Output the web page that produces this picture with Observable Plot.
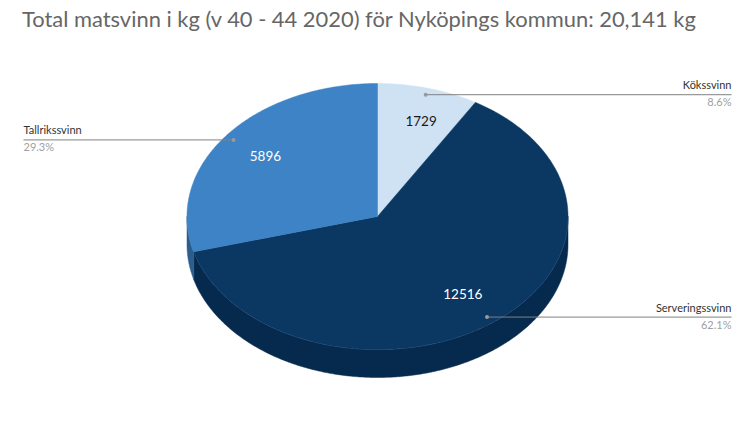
<!DOCTYPE html>
<html>
<head>
<meta charset="utf-8">
<script src="https://cdn.jsdelivr.net/npm/d3@7"></script>
<script src="https://cdn.jsdelivr.net/npm/@observablehq/plot@0.6"></script>
<style>
  html, body { margin: 0; padding: 0; background: #fff; }
  #title { font-family: Lato, "Open Sans", sans-serif; font-size: 21.9px; color: #666666; padding: 5px 0 0 22px; height: 40px; box-sizing: border-box; white-space: nowrap; }
</style>
</head>
<body>
<div id="title">Total matsvinn i kg (v 40 - 44 2020) för Nyköpings kommun: 20,141 kg</div>
<div id="chart"></div>
<script>
// ---- data ----
const categories = ["Kökssvinn", "Serveringssvinn", "Tallrikssvinn"];
const values = [1729, 12516, 5896];
const percentLabels = ["8.6%", "62.1%", "29.3%"];
const topColors = ["#cfe2f3", "#0b3763", "#3d83c5"];
const sideColors = ["#9fb5ca", "#062a4e", "#2b5d8d"];
const valueColors = ["#1a1a1a", "#ffffff", "#ffffff"];

// ---- layout ----
const W = 754, H = 424, titleH = 40;
const cx = 377, cy = 216, rx = 190.5, ry = 133, depth = 28;

const pie = d3.pie().sort(null).value(d => d)(values);

const px = (a, r = 1) => cx + rx * r * Math.sin(a);
const py = (a, r = 1) => cy - ry * r * Math.cos(a);

function arcPts(a0, a1, dy = 0) {
  const n = Math.max(2, Math.ceil((a1 - a0) / 0.01));
  const pts = [];
  for (let i = 0; i <= n; i++) {
    const a = a0 + (a1 - a0) * i / n;
    pts.push({x: px(a), y: py(a) + dy});
  }
  return pts;
}

const marks = [];
// side walls (front half only)
pie.forEach((s, i) => {
  const a0 = Math.max(s.startAngle, Math.PI / 2);
  const a1 = Math.min(s.endAngle, 3 * Math.PI / 2);
  if (a1 > a0) {
    const top = arcPts(a0, a1, 0);
    const bot = arcPts(a0, a1, depth).reverse();
    const poly = top.concat(bot);
    poly.push(top[0]);
    marks.push(Plot.line(poly, {x: "x", y: "y", fill: sideColors[i], stroke: sideColors[i], strokeWidth: 0.5}));
    marks.push(Plot.line(arcPts(a0, a1, 0), {x: "x", y: "y", stroke: "#7fa3c8", strokeOpacity: 0.45, strokeWidth: 0.8}));
  }
});
// top faces
pie.forEach((s, i) => {
  const poly = [{x: cx, y: cy}].concat(arcPts(s.startAngle, s.endAngle, 0));
  poly.push({x: cx, y: cy});
  marks.push(Plot.line(poly, {x: "x", y: "y", fill: topColors[i], stroke: topColors[i], strokeWidth: 0.5}));
});

// value labels
const valueData = pie.map((s, i) => {
  const m = (s.startAngle + s.endAngle) / 2;
  return {x: px(m, 0.74) + (i === 0 ? 6 : 0), y: py(m, 0.74), text: String(values[i]), color: valueColors[i]};
});
marks.push(Plot.text(valueData, {x: "x", y: "y", text: "text", fill: "color", fontSize: 13.5, fontFamily: "Lato, 'Open Sans', sans-serif"}));

// leader lines with labels
const leaderEnd = [731, 731, 23];
const leaderData = pie.map((s, i) => {
  const m = (s.startAngle + s.endAngle) / 2;
  const x0 = px(m, 0.95), y0 = py(m, 0.95);
  return {x0, y0, x1: leaderEnd[i], name: categories[i], pct: percentLabels[i], right: leaderEnd[i] > cx};
});
marks.push(Plot.link(leaderData, {x1: "x0", y1: "y0", x2: "x1", y2: "y0", stroke: "#808080", strokeWidth: 1}));
marks.push(Plot.dot(leaderData, {x: "x0", y: "y0", r: 2, fill: "#9a9a9a", stroke: "none"}));
for (const right of [true, false]) {
  const sub = leaderData.filter(d => d.right === right);
  marks.push(Plot.text(sub, {x: "x1", y: "y0", text: "name", dy: -9, textAnchor: right ? "end" : "start", fill: "#333333", fontSize: 11, fontFamily: "Lato, 'Open Sans', sans-serif"}));
  marks.push(Plot.text(sub, {x: "x1", y: "y0", text: "pct", dy: 8, textAnchor: right ? "end" : "start", fill: "#a0a0a0", fontSize: 11, fontFamily: "Lato, 'Open Sans', sans-serif"}));
}

const plot = Plot.plot({
  width: W,
  height: H - titleH,
  margin: 0,
  x: {type: "linear", domain: [0, W], range: [0, W], axis: null},
  y: {type: "linear", domain: [titleH, H], range: [0, H - titleH], axis: null},
  style: {background: "#ffffff", overflow: "visible"},
  marks
});
document.getElementById("chart").appendChild(plot);
</script>
</body>
</html>
